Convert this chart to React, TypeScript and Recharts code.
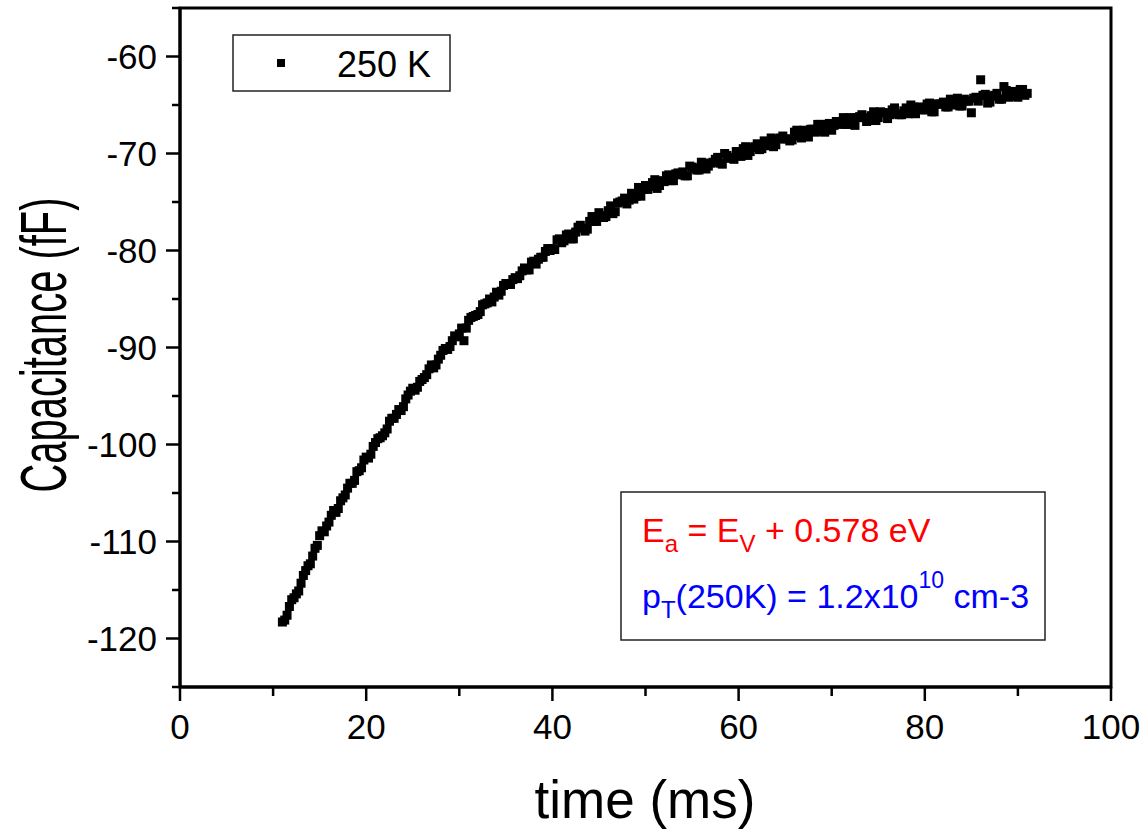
import React from 'react';
import { ScatterChart, Scatter, XAxis, YAxis, ReferenceArea } from 'recharts';

// Samples on the half-millisecond grid
const timeMs = [
  11, 11.5, 12, 12.5, 13, 13.5, 14, 14.5, 15, 15.5, 16, 16.5, 17, 17.5, 18, 18.5, 19, 19.5, 20, 20.5,
  21, 21.5, 22, 22.5, 23, 23.5, 24, 24.5, 25, 25.5, 26, 26.5, 27, 27.5, 28, 28.5, 29, 29.5, 30, 30.5,
  31, 31.5, 32, 32.5, 33, 33.5, 34, 34.5, 35, 35.5, 36, 36.5, 37, 37.5, 38, 38.5, 39, 39.5, 40, 40.5,
  41, 41.5, 42, 42.5, 43, 43.5, 44, 44.5, 45, 45.5, 46, 46.5, 47, 47.5, 48, 48.5, 49, 49.5, 50, 50.5,
  51, 51.5, 52, 52.5, 53, 53.5, 54, 54.5, 55, 55.5, 56, 56.5, 57, 57.5, 58, 58.5, 59, 59.5, 60, 60.5,
  61, 61.5, 62, 62.5, 63, 63.5, 64, 64.5, 65, 65.5, 66, 66.5, 67, 67.5, 68, 68.5, 69, 69.5, 70, 70.5,
  71, 71.5, 72, 72.5, 73, 73.5, 74, 74.5, 75, 75.5, 76, 76.5, 77, 77.5, 78, 78.5, 79, 79.5, 80, 80.5,
  81, 81.5, 82, 82.5, 83, 83.5, 84, 84.5, 85, 85.5, 86, 86.5, 87, 87.5, 88, 88.5, 89, 89.5, 90, 90.5,
  91,
];

const capacitanceFF = [
  -118.3, -117.6, -116.0, -115.4, -114.3, -113.0, -112.3, -110.7, -109.4, -109.0,
  -108.0, -106.8, -106.6, -105.5, -104.5, -104.0, -102.8, -102.4, -101.3, -101.0,
  -99.8, -99.3, -98.8, -97.6, -97.3, -96.4, -96.1, -94.9, -94.2, -94.1,
  -93.3, -92.8, -91.8, -91.8, -90.8, -90.1, -89.9, -88.8, -88.6, -89.3,
  -87.2, -86.8, -86.6, -85.6, -85.4, -85.3, -84.3, -84.2, -83.4, -83.5,
  -82.8, -82.6, -81.8, -82.0, -81.1, -80.9, -80.7, -79.8, -79.8, -78.9,
  -79.2, -78.4, -78.8, -78.1, -77.4, -78.0, -77.0, -77.0, -76.1, -76.6,
  -75.9, -76.2, -75.1, -74.9, -75.2, -74.1, -74.4, -74.4, -73.3, -73.4,
  -72.7, -73.3, -72.9, -72.2, -72.8, -72.0, -71.9, -72.3, -71.4, -71.7,
  -70.9, -71.6, -71.0, -70.6, -71.0, -70.0, -70.5, -70.6, -69.8, -69.5,
  -70.2, -69.4, -69.0, -69.5, -69.2, -68.4, -69.1, -68.4, -68.5, -68.7,
  -67.8, -68.2, -67.6, -68.3, -67.5, -67.0, -67.7, -67.0, -67.6, -66.7,
  -66.9, -67.0, -66.3, -67.1, -66.2, -66.3, -66.6, -65.7, -66.3, -65.8,
  -66.4, -65.5, -65.9, -66.0, -65.3, -65.0, -65.9, -65.2, -65.5, -64.8,
  -65.7, -64.9, -64.7, -65.2, -65.0, -64.3, -65.1, -64.6, -65.8, -64.2,
  -62.4, -63.9, -64.7, -64.0, -64.4, -63.1, -64.2, -63.6, -64.2, -63.4,
  -63.8,
];

// Samples in between (quarter-millisecond offsets)
const timeMsQ = [
  11.25, 11.75, 12.25, 12.75, 13.25, 13.75, 14.25, 14.75, 15.25, 15.75, 16.25, 16.75, 17.25, 17.75, 18.25, 18.75,
  19.25, 19.75, 20.25, 20.75, 21.25, 21.75, 22.25, 22.75, 23.25, 23.75, 24.25, 24.75, 25.25, 25.75, 26.25, 26.75,
  27.25, 27.75, 28.25, 28.75, 29.25, 29.75, 30.25, 30.75, 31.25, 31.75, 32.25, 32.75, 33.25, 33.75, 34.25, 34.75,
  35.25, 35.75, 36.25, 36.75, 37.25, 37.75, 38.25, 38.75, 39.25, 39.75, 40.25, 40.75, 41.25, 41.75, 42.25, 42.75,
  43.25, 43.75, 44.25, 44.75, 45.25, 45.75, 46.25, 46.75, 47.25, 47.75, 48.25, 48.75, 49.25, 49.75, 50.25, 50.75,
  51.25, 51.75, 52.25, 52.75, 53.25, 53.75, 54.25, 54.75, 55.25, 55.75, 56.25, 56.75, 57.25, 57.75, 58.25, 58.75,
  59.25, 59.75, 60.25, 60.75, 61.25, 61.75, 62.25, 62.75, 63.25, 63.75, 64.25, 64.75, 65.25, 65.75, 66.25, 66.75,
  67.25, 67.75, 68.25, 68.75, 69.25, 69.75, 70.25, 70.75, 71.25, 71.75, 72.25, 72.75, 73.25, 73.75, 74.25, 74.75,
  75.25, 75.75, 76.25, 76.75, 77.25, 77.75, 78.25, 78.75, 79.25, 79.75, 80.25, 80.75, 81.25, 81.75, 82.25, 82.75,
  83.25, 83.75, 84.25, 84.75, 85.25, 85.75, 86.25, 86.75, 87.25, 87.75, 88.25, 88.75, 89.25, 89.75, 90.25, 90.75,
];

const capacitanceFFQ = [
  -118.1, -116.7, -115.8, -115.1, -113.5, -112.5, -111.5, -110.4, -108.9, -108.4, -107.3, -107.0, -105.8, -105.2, -104.0, -103.7,
  -102.7, -101.6, -101.4, -100.2, -99.4, -99.1, -98.4, -97.3, -96.9, -96.5, -95.3, -94.5, -94.4, -93.5, -93.1, -92.2,
  -92.1, -91.2, -90.3, -90.2, -89.3, -88.9, -88.0, -88.0, -86.9, -86.7, -86.3, -85.5, -85.0, -84.8, -84.6, -83.6,
  -83.5, -83.0, -82.9, -82.1, -82.0, -81.2, -81.4, -80.7, -80.1, -80.0, -79.9, -78.8, -79.0, -78.3, -78.8, -77.6,
  -77.7, -77.8, -76.5, -77.0, -76.4, -76.5, -75.4, -76.0, -75.0, -74.6, -74.8, -74.7, -73.5, -73.7, -73.7, -73.0,
  -73.6, -72.8, -72.3, -72.8, -72.1, -72.2, -72.3, -71.3, -71.5, -71.7, -71.0, -71.3, -70.9, -70.4, -71.1, -70.2,
  -70.4, -69.8, -70.3, -69.3, -69.8, -69.3, -69.6, -68.7, -69.0, -69.3, -68.5, -68.2, -68.5, -68.6, -67.6, -68.4,
  -67.7, -67.5, -67.8, -67.0, -67.8, -66.9, -67.1, -67.0, -66.3, -67.0, -66.8, -66.3, -66.0, -66.7, -66.1, -66.6,
  -65.7, -65.8, -66.0, -65.3, -66.0, -65.6, -65.9, -65.2, -65.3, -65.5, -64.9, -65.7, -64.9, -64.9, -65.2, -64.4,
  -64.9, -65.1, -64.4, -64.6, -64.3, -64.6, -64.0, -64.8, -64.1, -63.8, -64.4, -63.5, -64.0, -64.1, -63.4, -64.0,
];

const xMajorTicks = [0, 20, 40, 60, 80, 100];
const xMinorTicks = [10, 30, 50, 70, 90];
const yMajorTicks = [-120, -110, -100, -90, -80, -70, -60];
const yMinorTicks = [-125, -115, -105, -95, -85, -75, -65, -55];
const xDomain = [0, 100];
const yDomain = [-125, -55];

const seriesName = '250 K';
const xTitle = 'time (ms)';
const yTitle = 'Capacitance (fF)';

const data = [
  ...timeMs.map((t, i) => ({ t, c: capacitanceFF[i] })),
  ...timeMsQ.map((t, i) => ({ t, c: capacitanceFFQ[i] })),
].sort((a, b) => a.t - b.t);
const xTicks = [...xMajorTicks, ...xMinorTicks].sort((a, b) => a - b);
const yTicks = [...yMajorTicks, ...yMinorTicks].sort((a, b) => a - b);

const FONT = '"Liberation Sans", Arial, Helvetica, sans-serif';

const XTick = (props: any) => {
  const { x, y, payload } = props;
  const major = xMajorTicks.includes(payload.value);
  return (
    <g>
      <line x1={x} x2={x} y1={y} y2={y + (major ? 14 : 9)} stroke="#000" strokeWidth={2.5} />
      {major && (
        <text x={x} y={y + 52} textAnchor="middle" fontSize={35} fontFamily={FONT} fill="#000">
          {payload.value}
        </text>
      )}
    </g>
  );
};

const YTick = (props: any) => {
  const { x, y, payload } = props;
  const major = yMajorTicks.includes(payload.value);
  return (
    <g>
      <line x1={x - (major ? 14 : 8)} x2={x} y1={y} y2={y} stroke="#000" strokeWidth={2.5} />
      {major && (
        <text x={x - 23} y={y + 12.5} textAnchor="end" fontSize={35} fontFamily={FONT} fill="#000">
          {payload.value}
        </text>
      )}
    </g>
  );
};

const SquareDot = (props: any) => {
  const { cx, cy } = props;
  if (cx == null || cy == null) return null;
  return <rect x={cx - 4.5} y={cy - 4.5} width={9} height={9} fill="#000" />;
};

export default function App() {
  return (
    <div style={{ position: 'absolute', left: 0, top: 0, width: 1146, height: 830, background: '#fff' }}>
      <ScatterChart
        width={1146}
        height={830}
        margin={{ top: 8, right: 35, bottom: 83, left: 80 }}
      >
        <XAxis
          type="number"
          dataKey="t"
          domain={xDomain}
          ticks={xTicks}
          interval={0}
          height={60}
          tickSize={0}
          tickMargin={0}
          tickLine={false}
          tick={<XTick />}
          axisLine={{ stroke: '#000', strokeWidth: 3 }}
          allowDataOverflow
        />
        <YAxis
          type="number"
          dataKey="c"
          domain={yDomain}
          ticks={yTicks}
          interval={0}
          width={100}
          tickSize={0}
          tickMargin={0}
          tickLine={false}
          tick={<YTick />}
          axisLine={{ stroke: '#000', strokeWidth: 3 }}
          allowDataOverflow
        />
        <ReferenceArea
          x1={xDomain[0]}
          x2={xDomain[1]}
          y1={yDomain[0]}
          y2={yDomain[1]}
          fill="none"
          fillOpacity={0}
          stroke="#000"
          strokeWidth={3}
          ifOverflow="visible"
        />
        <Scatter
          name={seriesName}
          data={data}
          fill="#000"
          shape={<SquareDot />}
          isAnimationActive={false}
        />
      </ScatterChart>
      <svg
        width={1146}
        height={830}
        style={{ position: 'absolute', left: 0, top: 0, pointerEvents: 'none' }}
      >
        <text
          x={645}
          y={818}
          textAnchor="middle"
          fontSize={53}
          fontFamily={FONT}
          fill="#000"
        >
          {xTitle}
        </text>
        <text
          transform="translate(66,345) rotate(-90)"
          textAnchor="middle"
          fontSize={64}
          fontFamily={FONT}
          fill="#000"
          textLength={295}
          lengthAdjust="spacingAndGlyphs"
        >
          {yTitle}
        </text>

        <rect x={233} y={35} width={217} height={56} fill="#fff" stroke="#222" strokeWidth={1.5} />
        <rect x={277} y={59} width={8} height={8} fill="#000" />
        <text x={337} y={77} fontSize={36} fontFamily={FONT} fill="#000">
          {seriesName}
        </text>

        <rect x={621} y={492} width={424} height={148} fill="#fff" stroke="#222" strokeWidth={1.5} />
        <text x={642} y={542} fontSize={34} fontFamily={FONT} fill="#ff0000">
          <tspan>E</tspan>
          <tspan fontSize={24} dy={10}>a</tspan>
          <tspan dy={-10}> = E</tspan>
          <tspan fontSize={24} dy={10}>V</tspan>
          <tspan dy={-10}> + 0.578 eV</tspan>
        </text>
        <text x={642} y={608} fontSize={34} fontFamily={FONT} fill="#0000ff">
          <tspan>p</tspan>
          <tspan fontSize={24} dy={10}>T</tspan>
          <tspan dy={-10}>(250K) = 1.2x10</tspan>
          <tspan fontSize={23} dy={-20}>10</tspan>
          <tspan dy={20}> cm-3</tspan>
        </text>
      </svg>
    </div>
  );
}
